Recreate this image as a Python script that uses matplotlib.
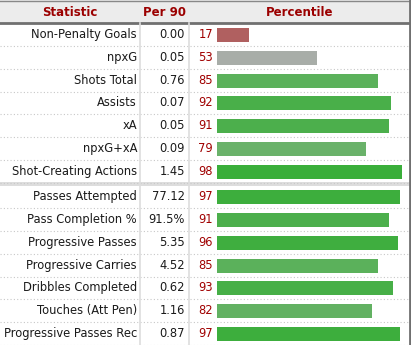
import matplotlib
matplotlib.use("Agg")
import matplotlib.pyplot as plt
import numpy as np

# data
stats_top = ["Non-Penalty Goals", "npxG", "Shots Total", "Assists", "xA",
             "npxG+xA", "Shot-Creating Actions"]
per90_top = ["0.00", "0.05", "0.76", "0.07", "0.05", "0.09", "1.45"]
pct_top = [17, 53, 85, 92, 91, 79, 98]

stats_bottom = ["Passes Attempted", "Pass Completion %", "Progressive Passes",
                "Progressive Carries", "Dribbles Completed", "Touches (Att Pen)",
                "Progressive Passes Rec"]
per90_bottom = ["77.12", "91.5%", "5.35", "4.52", "0.62", "1.16", "0.87"]
pct_bottom = [97, 91, 96, 85, 93, 82, 97]

headers = ["Statistic", "Per 90", "Percentile"]

W, H = 411, 345
header_h = 23.3
row_h = 22.75
sep_h = 3.0
col1, col2 = 140, 189
bar_left, bar_full = 217, 189

DARKRED = "#a00000"
FS = 8.3


def bar_colour(p):
    if p < 30:
        return "#b06060"
    if p < 60:
        return "#a8ada8"
    t = np.clip((p - 79) / (98 - 79), 0, 1)
    light = np.array([106, 178, 106]) / 255
    dark = np.array([58, 174, 58]) / 255
    return tuple(light + (dark - light) * t)


fig = plt.figure(figsize=(W / 100, H / 100), dpi=100)
ax = fig.add_axes([0, 0, 1, 1])
ax.set_xlim(0, W)
ax.set_ylim(H, 0)
ax.axis("off")

# bar axes covering the percentile column, 0..100 scale
bx = fig.add_axes([bar_left / W, 0, bar_full / W, 1])
bx.set_xlim(0, 100)
bx.set_ylim(H, 0)
bx.axis("off")

# header
ax.add_patch(plt.Rectangle((0, 0), W, header_h, color="#ececec", lw=0))
ax.plot([0, W], [0.5, 0.5], color="#888888", lw=1)
ax.plot([0, W], [header_h, header_h], color="#707070", lw=2)
hx = [70, 164.5, 300]
for x, t in zip(hx, headers):
    ax.text(x, header_h / 2 + 0.5, t, ha="center", va="center", color="#9b0000",
            fontsize=8.5, fontweight="bold")

rows = []
y = header_h
for s, v, p in zip(stats_top, per90_top, pct_top):
    rows.append((y, s, v, p))
    y += row_h
sep_y = y
y += sep_h
for s, v, p in zip(stats_bottom, per90_bottom, pct_bottom):
    rows.append((y, s, v, p))
    y += row_h

ax.add_patch(plt.Rectangle((0, sep_y - 0.5), W, sep_h + 0.5, color="#dddddd", lw=0))

for top, s, v, p in rows:
    yc = top + row_h / 2
    ax.text(col1 - 3, yc, s, ha="right", va="center", fontsize=FS, color="#1a1a1a")
    ax.text(col2 - 4, yc, v, ha="right", va="center", fontsize=FS, color="#1a1a1a")
    ax.text(bar_left - 4, yc, str(p), ha="right", va="center", fontsize=FS, color=DARKRED)
    bx.barh(yc + 0.5, p, height=14, left=0, color=bar_colour(p), lw=0)
    ax.plot([0, W], [top + row_h, top + row_h], color="#c8c8c8", lw=0.8, ls=(0, (1, 2)))

# column borders
for x in (col1, col2):
    ax.plot([x, x], [header_h, H], color="#dddddd", lw=1.2)
ax.plot([409.5, 409.5], [0, H], color="#707070", lw=2)

fig.savefig("out.png", dpi=100)
